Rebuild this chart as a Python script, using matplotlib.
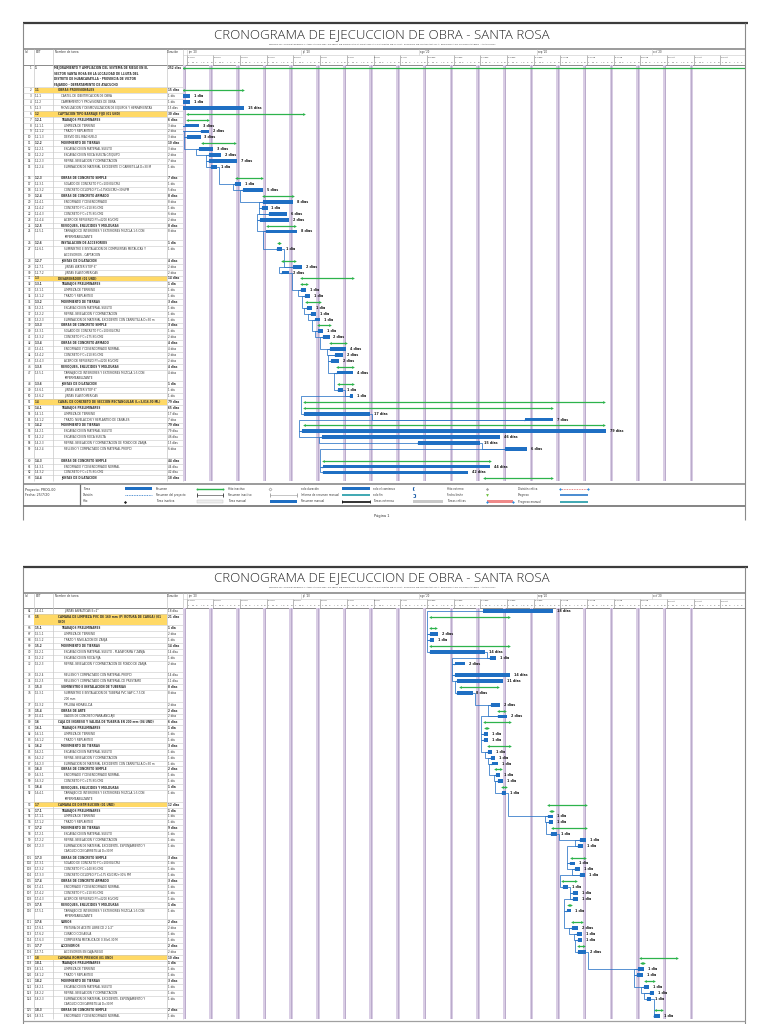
"""Cronograma de ejecucion de obra - Santa Rosa (Gantt, 2 paginas)."""

import matplotlib
matplotlib.use('Agg')
import matplotlib.pyplot as plt
from matplotlib.patches import Rectangle
import numpy as np
import pandas as pd

W, H = 768, 1024
DAY_PX = 26.67 / 7          # px per calendar day
X_TAB = 23
X_GANTT = 183
X_RIGHT = 745
ROW_PX = 5.88

# Colors
BLUE = '#1f6fc3'
LINK = '#2a74c6'
GREEN = '#2db34c'
YELLOW = '#ffd966'
STRIPE = '#d9cde4'
STRIPE_DARK = '#ae9dc2'
GRID = '#c8c8c8'
FRAME = '#8a8a8a'
TEXT = '#333333'

TITLE = 'CRONOGRAMA DE EJECUCCION DE OBRA - SANTA ROSA'
SUBTITLE = ('PROYECTO: "MEJORAMIENTO Y AMPLIACION DEL SISTEMA DE RIEGO SANTA ROSA EN LA LOCALIDAD DE '
            'LLIUTA, DISTRITO DE HUANCARAYLLA, PROVINCIA DE VICTOR FAJARDO - AYACUCHO"')

# Timescale (day 0 = dom 31 may 2020)
MONTH_LABELS = ["jun '20", "jul '20", "ago '20", "sep '20", "oct '20"]
MONTH_DAYS = [1, 31, 62, 93, 123]
DAY_LETTERS = ['L', 'M', 'X', 'J', 'V', 'S', 'D']
HIGHLIGHT = ['1.1', '1.2', '1.3', '1.4', '1.5', '1.7', '1.8']

# ---------------- page 1 ----------------
P1_EDT = ['1', '1.1', '1.1.1', '1.1.2', '1.1.3', '1.2', '1.2.1', '1.2.1.1', '1.2.1.2', '1.2.1.3',
          '1.2.2', '1.2.2.1', '1.2.2.2', '1.2.2.3', '1.2.2.4', '1.2.3', '1.2.3.1', '1.2.3.2',
          '1.2.4', '1.2.4.1', '1.2.4.2', '1.2.4.3', '1.2.4.4', '1.2.5', '1.2.5.1', '1.2.6',
          '1.2.6.1', '1.2.7', '1.2.7.1', '1.2.7.2', '1.3', '1.3.1', '1.3.1.1', '1.3.1.2',
          '1.3.2', '1.3.2.1', '1.3.2.2', '1.3.2.3', '1.3.3', '1.3.3.1', '1.3.3.2', '1.3.4',
          '1.3.4.1', '1.3.4.2', '1.3.4.3', '1.3.5', '1.3.5.1', '1.3.6', '1.3.6.1', '1.3.6.2',
          '1.4', '1.4.1', '1.4.1.1', '1.4.1.2', '1.4.2', '1.4.2.1', '1.4.2.2', '1.4.2.3',
          '1.4.2.4', '1.4.3', '1.4.3.1', '1.4.3.2', '1.4.4']
P1_NAME = [
    'MEJORAMIENTO Y AMPLIACION DEL SISTEMA DE RIEGO EN EL\nSECTOR SANTA ROSA EN LA LOCALIDAD DE LLIUTA DEL\n'
    'DISTRITO DE HUANCARAYLLA - PROVINCIA DE VICTOR\nFAJARDO - DEPARTAMENTO DE AYACUCHO',
    'OBRAS PROVISIONALES', 'CARTEL DE IDENTIFICACION DE OBRA', 'CAMPAMENTO Y PROVISIONES DE OBRA',
    'MOVILIZACION Y DESMOVILIZACION DE EQUIPOS Y HERRAMIENTAS', 'CAPTACION TIPO BARRAJE FIJO (01 UND)',
    'TRABAJOS PRELIMINARES', 'LIMPIEZA DE TERRENO', 'TRAZO Y REPLANTEO', 'DESVIO DEL RIACHUELO',
    'MOVIMIENTO DE TIERRAS', 'EXCAVACION EN MATERIAL SUELTO', 'EXCAVACION EN ROCA SUELTA C/EQUIPO',
    'REFINE, NIVELACION Y COMPACTACION', 'ELIMINACION DE MATERIAL EXCEDENTE C/ CARRETILLA D=30 M',
    'OBRAS DE CONCRETO SIMPLE', "SOLADO DE CONCRETO F'C=100 KG/CM2", "CONCRETO CICLOPEO F'C=175KG/CM2+30%PM",
    'OBRAS DE CONCRETO ARMADO', 'ENCOFRADO Y DESENCOFRADO', "CONCRETO F'C=210 KG/CM2",
    "CONCRETO F'C=175 KG/CM2", 'ACERO DE REFUERZO FY=4200 KG/CM2', 'REVOQUES, ENLUCIDOS Y MOLDURAS',
    'TARRAJEO DE INTERIORES Y EXTERIORES MEZCLA 1:5 CON\nIMPERMEABILIZANTE', 'INSTALACION DE ACCESORIOS',
    'SUMINISTRO E INSTALACION DE COMPUERTAS METALICAS Y\nACCESORIOS - CAPTACION', 'JUNTAS DE DILATACION',
    'JUNTAS WATER STOP 6"', 'JUNTAS ELASTOMERICAS', 'DESARENADOR (01 UND)', 'TRABAJOS PRELIMINARES',
    'LIMPIEZA DE TERRENO', 'TRAZO Y REPLANTEO', 'MOVIMIENTO DE TIERRAS', 'EXCAVACION EN MATERIAL SUELTO',
    'REFINE, NIVELACION Y COMPACTACION', 'ELIMINACION DE MATERIAL EXCEDENTE CON CARRETILLA D=30 m',
    'OBRAS DE CONCRETO SIMPLE', "SOLADO DE CONCRETO F'C=100 KG/CM2", "CONCRETO F'C=175 KG/CM2",
    'OBRAS DE CONCRETO ARMADO', 'ENCOFRADO Y DESENCOFRADO NORMAL', "CONCRETO F'C=210 KG/CM2",
    'ACERO DE REFUERZO FY=4200 KG/CM2', 'REVOQUES, ENLUCIDOS Y MOLDURAS',
    'TARRAJEO DE INTERIORES Y EXTERIORES MEZCLA 1:5 CON\nIMPERMEABILIZANTE', 'JUNTAS DE DILATACION',
    'JUNTAS WATER STOP 6"', 'JUNTAS ELASTOMERICAS',
    'CANAL DE CONCRETO DE SECCION RECTANGULAR (L=3,016.90 ML)', 'TRABAJOS PRELIMINARES',
    'LIMPIEZA DE TERRENO', 'TRAZO, NIVELACION Y REPLANTEO DE CANALES', 'MOVIMIENTO DE TIERRAS',
    'EXCAVACION EN MATERIAL SUELTO', 'EXCAVACION EN ROCA SUELTA',
    'REFINE, NIVELACION Y COMPACTACION DE FONDO DE ZANJA', 'RELLENO Y COMPACTADO CON MATERIAL PROPIO',
    'OBRAS DE CONCRETO SIMPLE', 'ENCOFRADO Y DESENCOFRADO NORMAL', "CONCRETO F'C=175 KG/CM2",
    'JUNTAS DE DILATACION']
P1_DUR = ['252 días', '15 días', '1 día', '1 día', '15 días', '30 días', '6 días', '3 días', '2 días',
          '3 días', '10 días', '3 días', '2 días', '7 días', '1 día', '7 días', '1 día', '5 días',
          '8 días', '8 días', '1 día', '6 días', '2 días', '8 días', '8 días', '1 día', '1 día',
          '4 días', '2 días', '2 días', '14 días', '1 día', '1 día', '1 día', '3 días', '1 día',
          '1 día', '1 día', '3 días', '1 día', '2 días', '4 días', '4 días', '2 días', '2 días',
          '4 días', '4 días', '1 día', '1 día', '1 día', '79 días', '65 días', '17 días', '7 días',
          '79 días', '79 días', '46 días', '15 días', '6 días', '44 días', '44 días', '42 días',
          '18 días']
P1_SPAN = [3.8, 1, 1, 1, 1, 1, 1, 1, 1, 1, 1, 1, 1, 1, 2, 1, 1, 1, 1, 1, 1, 1, 1, 1, 2, 1, 2, 1,
           1, 1, 1, 1, 1, 1, 1, 1, 1, 1, 1, 1, 1, 1, 1, 1, 1, 1, 2, 1, 1, 1, 1, 1, 1, 1, 1, 1, 1,
           1, 2, 1, 1, 1, 1]
P1_START = [0, 0, 0, 0, 0, 1, 1, 0.5, 4.7, 1, 5, 4.2, 6.8, 6.8, 7.3, 13.9, 13.7, 15.7, 21, 21,
            20.7, 22.6, 20.2, 22, 21.8, 24.9, 24.7, 26, 28.9, 26, 30.9, 31, 31, 32, 32.3, 32.5,
            33.6, 34.6, 35.4, 35.4, 36.7, 38.6, 38.6, 39.9, 38.8, 40.4, 40.4, 40.7, 40.7, 43.8,
            31.8, 31.8, 31.8, 89.8, 31.8, 31.2, 36.5, 61.7, 84.5, 36.7, 36.7, 36.7, 79]
P1_LEN = [160, 15.8, 1.8, 1.8, 16, 30.7, 5.6, 3.7, 2.1, 3.6, 8.7, 3.7, 3.1, 7.3, 1.6, 6.8, 1.6,
          5.3, 7.9, 7.9, 1.5, 4.7, 7.6, 7.3, 8.2, 0.6, 1.3, 3.4, 2.4, 1.9, 13.8, 1.6, 1.3, 1.3,
          3.6, 1.3, 1.3, 1.3, 3.1, 1.3, 1.8, 4.2, 4.2, 2.1, 2.1, 4.2, 4.2, 3.9, 1.3, 0.9, 78.7,
          65, 17.3, 7.3, 78.7, 79.8, 46.7, 16.3, 5.8, 43.8, 44, 38.1, 17.8]

# ---------------- page 2 ----------------
P2_EDT = ['1.4.4.1', '1.5', '1.5.1', '1.5.1.1', '1.5.1.2', '1.5.2', '1.5.2.1', '1.5.2.2', '1.5.2.3',
          '1.5.2.4', '1.5.2.5', '1.5.3', '1.5.3.1', '1.5.3.2', '1.5.4', '1.5.4.1', '1.6', '1.6.1',
          '1.6.1.1', '1.6.1.2', '1.6.2', '1.6.2.1', '1.6.2.2', '1.6.2.3', '1.6.3', '1.6.3.1',
          '1.6.3.2', '1.6.4', '1.6.4.1', '1.7', '1.7.1', '1.7.1.1', '1.7.1.2', '1.7.2', '1.7.2.1',
          '1.7.2.2', '1.7.2.3', '1.7.3', '1.7.3.1', '1.7.3.2', '1.7.3.3', '1.7.4', '1.7.4.1',
          '1.7.4.2', '1.7.4.3', '1.7.5', '1.7.5.1', '1.7.6', '1.7.6.1', '1.7.6.2', '1.7.6.3',
          '1.7.7', '1.7.7.1', '1.8', '1.8.1', '1.8.1.1', '1.8.1.2', '1.8.2', '1.8.2.1', '1.8.2.2',
          '1.8.2.3', '1.8.3', '1.8.3.1']
P2_NAME = [
    'JUNTAS ASFALTICAS E=1"', 'CAMARA DE LIMPIEZA PVC DE 160 mm (P/ ROTURA DE CARGA) (01\nUND)',
    'TRABAJOS PRELIMINARES', 'LIMPIEZA DE TERRENO', 'TRAZO Y NIVELACION DE ZANJA',
    'MOVIMIENTO DE TIERRAS', 'EXCAVACION EN MATERIAL SUELTO - PLATAFORMA Y ZANJA',
    'EXCAVACION EN ROCA FIJA', 'REFINE, NIVELACION Y COMPACTACION DE FONDO DE ZANJA',
    'RELLENO Y COMPACTADO CON MATERIAL PROPIO', 'RELLENO Y COMPACTADO CON MATERIAL DE PRESTAMO',
    'SUMINISTRO E INSTALACION DE TUBERIAS',
    'SUMINISTRO E INSTALACION DE TUBERIA PVC SAP C-7.5 DE\n200 mm', 'PRUEBA HIDRAULICA',
    'OBRAS DE ARTE', 'DADOS DE CONCRETO PARA ANCLAJE',
    'CAJA DE INGRESO Y SALIDA DE TUBERIA EN 200 mm (04 UND)', 'TRABAJOS PRELIMINARES',
    'LIMPIEZA DE TERRENO', 'TRAZO Y REPLANTEO', 'MOVIMIENTO DE TIERRAS',
    'EXCAVACION EN MATERIAL SUELTO', 'REFINE, NIVELACION Y COMPACTACION',
    'ELIMINACION DE MATERIAL EXCEDENTE CON CARRETILLA D=30 m', 'OBRAS DE CONCRETO SIMPLE',
    'ENCOFRADO Y DESENCOFRADO NORMAL', "CONCRETO F'C=175 KG/CM2", 'REVOQUES, ENLUCIDOS Y MOLDURAS',
    'TARRAJEO DE INTERIORES Y EXTERIORES MEZCLA 1:5 CON\nIMPERMEABILIZANTE',
    'CAMARA DE DISTRIBUCION (01 UND)', 'TRABAJOS PRELIMINARES', 'LIMPIEZA DE TERRENO',
    'TRAZO Y REPLANTEO', 'MOVIMIENTO DE TIERRAS', 'EXCAVACION EN MATERIAL SUELTO',
    'REFINE, NIVELACION Y COMPACTACION',
    'ELIMINACION DE MATERIAL EXCEDENTE, ESPONJAMIENTO Y\nCARGUIO CON CARRETILLA D=30 M',
    'OBRAS DE CONCRETO SIMPLE', "SOLADO DE CONCRETO F'C=100 KG/CM2", "CONCRETO F'C=140 KG/CM2",
    "CONCRETO CICLOPEO F'C=175 KG/CM2+30% PM", 'OBRAS DE CONCRETO ARMADO',
    'ENCOFRADO Y DESENCOFRADO NORMAL', "CONCRETO F'C=210 KG/CM2", 'ACERO DE REFUERZO FY=4200 KG/CM2',
    'REVOQUES, ENLUCIDOS Y MOLDURAS',
    'TARRAJEO DE INTERIORES Y EXTERIORES MEZCLA 1:5 CON\nIMPERMEABILIZANTE', 'VARIOS',
    'PINTURA DE ACEITE LIBRE DE 2 1/2"', 'CURADO CON AGUA', 'COMPUERTA METALICA DE 0.30x0.30 M',
    'ACCESORIOS', 'ACCESORIOS EN CAJA RIEGO', 'CAMARA ROMPE PRESION (01 UND)',
    'TRABAJOS PRELIMINARES', 'LIMPIEZA DE TERRENO', 'TRAZO Y REPLANTEO', 'MOVIMIENTO DE TIERRAS',
    'EXCAVACION EN MATERIAL SUELTO', 'REFINE, NIVELACION Y COMPACTACION',
    'ELIMINACION DE MATERIAL EXCEDENTE, ESPONJAMIENTO Y\nCARGUIO CON CARRETILLA D=30 M',
    'OBRAS DE CONCRETO SIMPLE', 'ENCOFRADO Y DESENCOFRADO NORMAL']
P2_DUR = ['18 días', '21 días', '1 día', '2 días', '1 día', '14 días', '14 días', '1 día', '2 días',
          '14 días', '11 días', '8 días', '8 días', '2 días', '2 días', '2 días',
          '6 días', '1 día', '1 día', '1 día', '3 días', '1 día', '1 día', '1 día', '2 días',
          '1 día', '1 día', '1 día', '1 día',
          '12 días', '1 día', '1 día', '1 día', '9 días', '1 día', '1 día', '1 día', '3 días',
          '1 día', '1 día', '1 día', '3 días', '1 día', '1 día', '1 día', '1 día', '1 día',
          '2 días', '2 días', '1 día', '1 día', '2 días', '2 días',
          '10 días', '1 día', '1 día', '1 día', '3 días', '1 día', '1 día', '1 día', '2 días', '1 día']
P2_SPAN = [1, 2, 1, 1, 1, 1, 1, 1, 2, 1, 1, 1, 2, 1, 1, 1, 1, 1, 1, 1, 1, 1, 1, 1, 1, 1, 1, 1, 2,
           1, 1, 1, 1, 1, 1, 1, 2, 1, 1, 1, 1, 1, 1, 1, 1, 1, 2, 1, 1, 1, 1, 1, 1, 1, 1, 1, 1, 1,
           1, 1, 2, 1, 1]
P2_START = [78.7, 64.8, 64.8, 64.8, 64.8, 64.8, 64.8, 80.6, 71.4, 71.4, 72, 72.7, 72, 80.8, 82.7,
            82.7, 79, 79.3, 79, 79, 80, 80, 80.8, 81.1, 81.9, 82.2, 82.7, 83.7, 83.7,
            95.8, 96.3, 95.8, 96, 96.9, 96.6, 104.2, 103.7, 101.8, 101.6, 102.9, 104.2, 99.5,
            99.7, 102.4, 102.4, 101, 100.8, 102.1, 102.1, 103.4, 103.7, 103.7, 103.7,
            120, 120.2, 119.4, 119.2, 121.3, 121, 122.6, 121.8, 123.9, 123.6]
P2_LEN = [18.4, 20.8, 1.6, 2.1, 1.1, 20.8, 14.4, 1.6, 2.6, 14.4, 12, 10, 4, 2.4, 1.8, 2.4,
          6.8, 0.8, 1.1, 1.1, 5.8, 1.1, 1.1, 1.6, 1.6, 1.1, 1.3, 1.1, 1.1,
          10, 0.8, 1.3, 1.1, 8.9, 1.6, 1.6, 1.3, 3.7, 1.3, 1.3, 1.3, 3.7, 1.3, 1.3, 1.3, 0.8,
          1.1, 2.6, 1.6, 1.3, 1.1, 1.6, 2.1,
          9.7, 0.8, 1.6, 1.6, 2.4, 1.3, 1.1, 1.1, 1.8, 1.6]

ALL_EDT = P1_EDT + P2_EDT

# Legend (7 columns x 3 rows)
LEG_LABELS = [['Tarea', 'División', 'Hito'],
              ['Resumen', 'Resumen del proyecto', 'Tarea inactiva'],
              ['Hito inactivo', 'Resumen inactivo', 'Tarea manual'],
              ['solo duración', 'Informe de resumen manual', 'Resumen manual'],
              ['solo el comienzo', 'solo fin', 'Tareas externas'],
              ['Hito externo', 'Fecha límite', 'Tareas críticas'],
              ['División crítica', 'Progreso', 'Progreso manual']]
LEG_KINDS = [['bar', 'split', 'ms'],
             ['summary', 'bracket', 'inactive'],
             ['ms_out', 'bracket_light', 'bar'],
             ['bar', 'teal', 'bracket_bold'],
             ['start', 'finish', 'gray'],
             ['ms_gray', 'deadline', 'critical'],
             ['crit_split', 'progress', 'teal']]


def is_summary(edt):
    return any(e.startswith(edt + '.') for e in ALL_EDT)


def draw_header(ax, top, title_y, sub_y, hdr, rows_top):
    ax.hlines(top, X_TAB, X_RIGHT + 3, color='#3c3c3c', lw=1.6)
    ax.text(382, title_y, TITLE, ha='center', va='center', fontsize=9.5,
            family='Open Sans', fontweight='light', color='#262626')
    ax.text(382, sub_y, SUBTITLE, ha='center', va='center', fontsize=1.75, color='#404040')
    ax.hlines(hdr, X_TAB, X_RIGHT, color=FRAME, lw=1.2)
    ax.hlines(rows_top, X_TAB, X_RIGHT, color=FRAME, lw=0.7)
    for x, lab in [(25, 'Id'), (36, 'EDT'), (55, 'Nombre de tarea'), (167, 'Duración')]:
        ax.text(x, hdr + 3, lab, fontsize=2.0, va='center', color=TEXT)
    # month tier
    tier = hdr + 6
    ax.hlines(tier, X_GANTT, X_RIGHT, color=GRID, lw=0.4)
    for d, lab in zip(MONTH_DAYS, MONTH_LABELS):
        x = X_GANTT + d * DAY_PX
        ax.vlines(x, hdr, tier, color=GRID, lw=0.4)
        ax.text(x + 1, hdr + 3, lab, fontsize=1.8, va='center', color=TEXT)
    # week tier with day letters
    weeks = pd.date_range('2020-06-01', periods=21, freq='7D')
    for k, wk in enumerate(weeks):
        d0 = 1 + 7 * k
        x = X_GANTT + d0 * DAY_PX
        if x > X_RIGHT - 2:
            break
        ax.vlines(x, tier, rows_top, color='#9a9a9a', lw=0.5)
        ax.text(x + 1, tier + 2.2, wk.strftime('%d') + ' ' + MONTH_LABELS[min(wk.month - 6, 4)][:3],
                fontsize=1.5, va='center', color=TEXT)
        for i, letter in enumerate(DAY_LETTERS):
            xd = X_GANTT + (d0 + i + 0.5) * DAY_PX
            if xd < X_RIGHT - 1:
                ax.text(xd, rows_top - 2.2, letter, fontsize=1.5, ha='center', va='center',
                        color=TEXT)


def draw_page(fig, ax, top, title_y, sub_y, hdr, rows_top, frame_bottom,
              edts, names, durs, spans, starts, lens, first_id):
    spans = np.array(spans, dtype=float)
    starts = np.array(starts, dtype=float)
    lens = np.array(lens, dtype=float)
    units = np.concatenate([[0], np.cumsum(spans)])
    total = units[-1]
    y0s = units[:-1]
    ymid = y0s + 0.5
    h_px = total * ROW_PX
    summ = [is_summary(e) for e in edts]

    draw_header(ax, top, title_y, sub_y, hdr, rows_top)
    ax.vlines([X_TAB, X_RIGHT], top, frame_bottom, color=FRAME, lw=0.8)
    ax.vlines([34, 53, 166.5, X_GANTT], hdr, rows_top + h_px, color=GRID, lw=0.5)

    bottom = 1 - (rows_top + h_px) / H
    tab = fig.add_axes([X_TAB / W, bottom, (X_GANTT - X_TAB) / W, h_px / H])
    tab.set_xlim(X_TAB, X_GANTT)
    tab.set_ylim(total, 0)
    tab.axis('off')
    tab.patch.set_alpha(0)

    gan = fig.add_axes([X_GANTT / W, bottom, (X_RIGHT - X_GANTT) / W, h_px / H])
    gan.set_xlim(0, (X_RIGHT - X_GANTT) / DAY_PX)
    gan.set_ylim(total, 0)
    gan.axis('off')
    gan.patch.set_alpha(0)

    # --- table ---
    hl = [i for i, e in enumerate(edts) if e in HIGHLIGHT]
    tab.barh(y0s[hl] + spans[hl] / 2, 132.5, left=34, height=spans[hl] - 0.08,
             color=YELLOW, zorder=1)
    tab.hlines(units[1:], X_TAB, X_GANTT, color=GRID, lw=0.4, zorder=2)
    for i, edt in enumerate(edts):
        depth = edt.count('.') + 1
        bold = 'bold' if summ[i] else 'normal'
        tab.text(31.5, ymid[i], str(first_id + i), fontsize=2.0, ha='right', va='center',
                 color=TEXT, zorder=3)
        tab.text(35, ymid[i], edt, fontsize=2.0, va='center', color=TEXT, zorder=3,
                 fontweight=bold)
        for j, line in enumerate(names[i].split('\n')):
            tab.text(54 + (depth - 1) * 3.5, ymid[i] + j * 0.95, line, fontsize=2.0,
                     va='center', color=TEXT, fontweight=bold, zorder=3)
        tab.text(167.5, ymid[i], durs[i], fontsize=2.0, va='center', color=TEXT,
                 fontweight=bold, zorder=3)

    # --- gantt: weekend stripes ---
    for k in range(20):
        gan.axvspan(7 * k - 0.05, 7 * k + 0.9, color=STRIPE, lw=0, zorder=0)
        gan.axvline(7 * k + 0.42, color=STRIPE_DARK, lw=0.5, zorder=0)

    tasks = [i for i in range(len(edts)) if not summ[i]]
    sums = [i for i in range(len(edts)) if summ[i]]

    # links between consecutive tasks
    for a, b in zip(tasks[:-1], tasks[1:]):
        ea = starts[a] + lens[a]
        if starts[b] >= ea + 0.6:
            xs = [ea, ea + 0.6, ea + 0.6, starts[b]]
        else:
            xv = min(starts[a], starts[b]) - 0.7
            xs = [starts[a], xv, xv, starts[b]]
        ys = [ymid[a], ymid[a], ymid[b], ymid[b]]
        gan.plot(xs, ys, color=LINK, lw=0.55, zorder=2, solid_joinstyle='miter')
        gan.plot(starts[b], ymid[b], '>', color=LINK, ms=1.3, mew=0, zorder=2)

    # summary brackets
    gan.hlines(ymid[sums], starts[sums], starts[sums] + lens[sums], color=GREEN, lw=0.9, zorder=3)
    gan.plot(starts[sums], ymid[sums], '<', color=GREEN, ms=2.0, mew=0, ls='none', zorder=3)
    gan.plot(starts[sums] + lens[sums], ymid[sums], '>', color=GREEN, ms=2.0, mew=0, ls='none',
             zorder=3)

    # task bars
    gan.barh(ymid[tasks], lens[tasks], left=starts[tasks], height=0.64, color=BLUE, zorder=4)
    for i in tasks:
        gan.text(starts[i] + lens[i] + 1.0, ymid[i], durs[i], fontsize=2.4, fontweight='bold',
                 va='center', color='#1a1a1a', zorder=5)
    return rows_top + h_px


def draw_legend_symbol(ax, kind, x0, x1, y):
    if kind == 'bar':
        ax.add_patch(Rectangle((x0, y - 1.3), x1 - x0, 2.6, fc=BLUE, ec='none'))
    elif kind == 'split':
        ax.hlines(y, x0, x1, color=BLUE, lw=0.6, linestyles=(0, (1, 1)))
    elif kind == 'ms':
        ax.plot(x0, y, 'D', color='#222222', ms=1.6, mew=0)
    elif kind == 'summary':
        ax.hlines(y, x0, x1, color=GREEN, lw=1.0)
        ax.plot([x0, x1], [y, y], ls='none', marker='o', color=GREEN, ms=1.4, mew=0)
    elif kind in ('bracket', 'bracket_light', 'bracket_bold'):
        col = {'bracket': '#303030', 'bracket_light': '#9a9a9a', 'bracket_bold': '#111111'}[kind]
        lw = 1.2 if kind == 'bracket_bold' else 0.4
        ax.hlines(y, x0, x1, color=col, lw=lw)
        ax.vlines([x0, x1], y - 1.6, y + 1.6, color=col, lw=0.6)
    elif kind == 'inactive':
        ax.add_patch(Rectangle((x0, y - 1.3), x1 - x0, 2.6, fc='#eeeeee', ec='#c0c0c0', lw=0.3))
    elif kind == 'ms_out':
        ax.plot(x0, y, 'D', mfc='white', mec='#707070', ms=1.6, mew=0.3)
    elif kind == 'teal':
        ax.hlines(y, x0, x1, color='#1f9aa6', lw=1.2)
    elif kind == 'start':
        ax.vlines(x0, y - 1.5, y + 1.5, color='#1e5fa8', lw=0.8)
        ax.hlines([y - 1.5, y + 1.5], x0, x0 + 1.2, color='#1e5fa8', lw=0.6)
    elif kind == 'finish':
        ax.vlines(x0 + 1.5, y - 1.5, y + 1.5, color='#1e5fa8', lw=0.8)
        ax.hlines([y - 1.5, y + 1.5], x0, x0 + 1.5, color='#1e5fa8', lw=0.6)
    elif kind == 'gray':
        ax.add_patch(Rectangle((x0, y - 1.3), x1 - x0, 2.6, fc='#c9c9c9', ec='none'))
    elif kind == 'ms_gray':
        ax.plot(x0, y, 'D', color='#a0a0a0', ms=1.6, mew=0)
    elif kind == 'deadline':
        ax.plot(x0, y, 'v', color='#6cbf3c', ms=2.0, mew=0)
    elif kind == 'critical':
        ax.add_patch(Rectangle((x0, y - 1.3), x1 - x0, 2.6, fc='#f08a8a', ec='none'))
        ax.plot([x0, x1], [y, y], ls='none', marker='D', color='#2a8fe0', ms=1.4, mew=0)
    elif kind == 'crit_split':
        ax.hlines(y, x0, x1, color='#e06060', lw=0.6, linestyles=(0, (1, 1)))
        ax.plot([x0, x1], [y, y], ls='none', marker='D', color='#2a8fe0', ms=1.4, mew=0)
    elif kind == 'progress':
        ax.hlines(y, x0, x1, color='#2b78c9', lw=1.2)


def main():
    fig = plt.figure(figsize=(W / 100, H / 100), dpi=100)
    fig.patch.set_facecolor('white')
    ax = fig.add_axes([0, 0, 1, 1])
    ax.set_xlim(0, W)
    ax.set_ylim(H, 0)
    ax.axis('off')

    # page 1
    end1 = draw_page(fig, ax, 23.3, 34.5, 44, 49.3, 65, 520,
                     P1_EDT, P1_NAME, P1_DUR, P1_SPAN, P1_START, P1_LEN, 1)

    # legend box
    ax.hlines([end1 + 1.5, end1 + 3], X_TAB, X_RIGHT, color=FRAME, lw=0.6)
    ax.hlines(506, X_TAB, X_RIGHT, color='#707070', lw=1.2)
    ax.vlines(80, end1 + 3, 506, color='#707070', lw=0.9)
    ax.text(25, 489.5, 'Proyecto: PROG-00', fontsize=2.3, va='center', color=TEXT)
    ax.text(25, 494.5, 'Fecha: 25/7/20', fontsize=2.3, va='center', color=TEXT)
    lab_x = [83, 156, 228, 301, 373, 447, 518]
    sym_x = [(125, 152), (197, 223), (270, 297), (342, 370), (413, 443), (487, 513), (560, 588)]
    rows_y = [488.5, 495, 501.5]
    for c in range(7):
        for r in range(3):
            ax.text(lab_x[c], rows_y[r], LEG_LABELS[c][r], fontsize=1.9, va='center', color=TEXT)
            draw_legend_symbol(ax, LEG_KINDS[c][r], sym_x[c][0], sym_x[c][1], rows_y[r])
    ax.text(382, 515.5, 'Página 1', fontsize=2.6, ha='center', va='center', color=TEXT)

    # page 2
    end2 = draw_page(fig, ax, 566.7, 577.5, 587.5, 592.7, 607.7, 1024,
                     P2_EDT, P2_NAME, P2_DUR, P2_SPAN, P2_START, P2_LEN, len(P1_EDT) + 1)
    ax.hlines(end2 + 1.5, X_TAB, X_RIGHT, color='#a0a0a0', lw=0.9)

    fig.savefig('out.png', dpi=100, facecolor='white')


if __name__ == '__main__':
    main()
